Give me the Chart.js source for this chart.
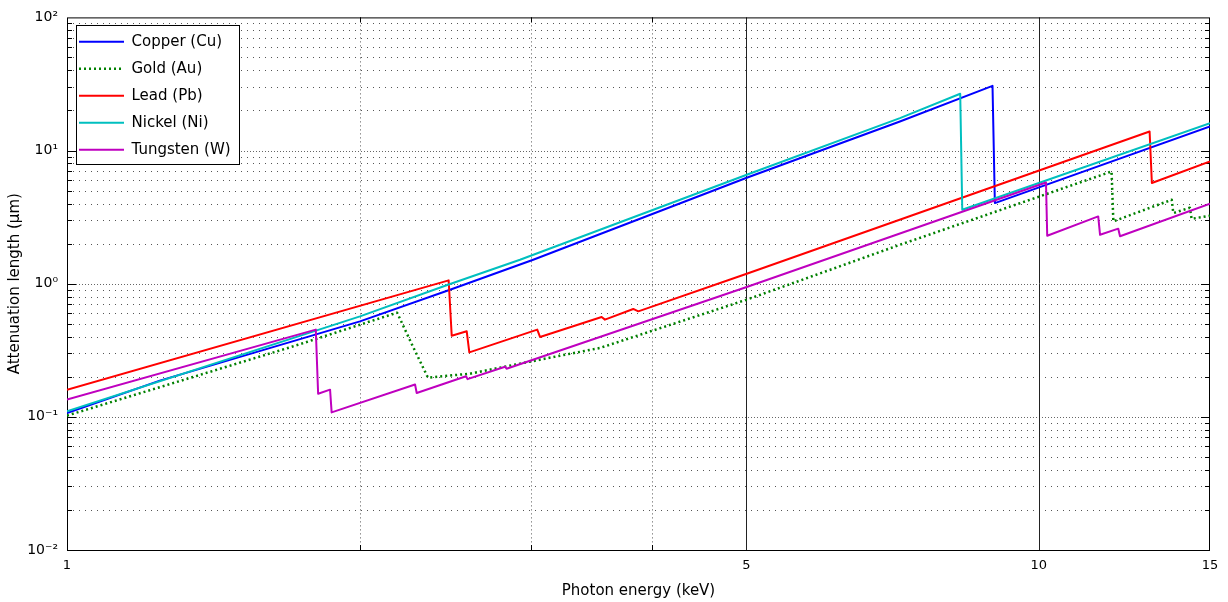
<!DOCTYPE html>
<html>
<head>
<meta charset="utf-8">
<title>Attenuation length vs photon energy</title>
<script src="https://cdn.jsdelivr.net/npm/chart.js@4.4.1/dist/chart.umd.min.js"></script>
<style>
  html, body { margin: 0; padding: 0; background: #fff; }
  #wrap { width: 1228px; height: 602px; }
</style>
</head>
<body>
<div id="wrap"><canvas id="attChart" width="1228" height="602"></canvas></div>
<script>
// Values: photon energy (keV) -> attenuation length (um)
const seriesNames = ['Copper (Cu)', 'Gold (Au)', 'Lead (Pb)', 'Nickel (Ni)', 'Tungsten (W)'];

const cuEnergy = [1, 1.246, 2.002, 2.478, 3.018, 5.005, 7.195, 8.96, 9.01, 15];
const cuLength = [0.107, 0.187, 0.521, 0.901, 1.514, 6.245, 16.52, 30.6, 4.03, 15.15];

const auEnergy = [1, 1.708, 2.186, 2.265, 2.352, 2.598, 2.925, 3.217, 3.535, 5.005, 7.195, 11.88, 11.93, 13.70, 13.75, 14.30, 14.36, 15];
const auLength = [0.1022, 0.338, 0.606, 0.348, 0.197, 0.211, 0.251, 0.288, 0.329, 0.759, 1.96, 6.96, 2.94, 4.27, 3.39, 3.72, 3.07, 3.24];

const pbEnergy = [1, 2.47, 2.488, 2.578, 2.594, 3.047, 3.067, 3.549, 3.577, 3.825, 3.871, 5.005, 13.0, 13.07, 15];
const pbLength = [0.160, 1.059, 0.407, 0.439, 0.305, 0.452, 0.398, 0.562, 0.537, 0.646, 0.620, 1.189, 13.9, 5.70, 8.28];

const niEnergy = [1, 2.002, 2.466, 2.925, 5.005, 7.195, 8.30, 8.34, 15];
const niLength = [0.110, 0.568, 0.983, 1.514, 6.577, 17.52, 26.7, 3.59, 16.07];

const wEnergy = [1, 1.803, 1.813, 1.865, 1.872, 2.281, 2.290, 2.574, 2.583, 2.823, 2.833, 5.005, 10.17, 10.20, 11.51, 11.56, 12.07, 12.12, 15];
const wLength = [0.1347, 0.452, 0.149, 0.160, 0.108, 0.175, 0.151, 0.202, 0.192, 0.238, 0.230, 0.945, 5.76, 2.29, 3.20, 2.33, 2.59, 2.27, 3.99];

// axis ticks / grid
const xTickValues = [1, 5, 10, 15];
const xDottedGrid = [2, 3, 4];
const xSolidGrid = [5, 10];
const yTickValues = [0.01, 0.1, 1, 10, 100];

const supers = { '-': '\u207B', '0': '\u2070', '1': '\u00B9', '2': '\u00B2' };
function powLabel(v) {
    const p = String(Math.round(Math.log10(v)));
    return '10' + p.split('').map(c => supers[c]).join('');
}

function toPoints(xs, ys) {
    return xs.map((x, i) => ({ x: x, y: ys[i] }));
}

const FONT = '"DejaVu Sans", sans-serif';

// grid, tick marks, axes box and legend frame (MATLAB look)
const framePlugin = {
    id: 'frame',
    beforeDraw(chart) {
        const ctx = chart.ctx;
        const a = chart.chartArea;
        const xs = chart.scales.x, ys = chart.scales.y;
        const line = (x1, y1, x2, y2) => { ctx.beginPath(); ctx.moveTo(x1, y1); ctx.lineTo(x2, y2); ctx.stroke(); };

        ctx.save();
        ctx.fillStyle = '#fff';
        ctx.fillRect(0, 0, chart.width, chart.height);
        ctx.lineWidth = 1;

        // horizontal dotted grid at every 1..9 x 10^n
        for (let p = -2; p < 2; p++) {
            for (let k = 1; k < 10; k++) {
                const v = k * Math.pow(10, p);
                if (v <= 0.01) continue;
                const py = Math.round(ys.getPixelForValue(v)) + 0.5;
                ctx.strokeStyle = k === 1 ? '#666' : '#555';
                ctx.setLineDash(k === 1 ? [1, 2] : [1, 5]);
                line(a.left, py, a.right, py);
                ctx.setLineDash([]);
                ctx.strokeStyle = '#000';
                const tl = k === 1 ? 9 : 5;
                line(a.left, py, a.left + tl, py);
                line(a.right - tl, py, a.right, py);
            }
        }

        // vertical grid
        xDottedGrid.forEach(v => {
            const px = Math.round(xs.getPixelForValue(v)) + 0.5;
            ctx.strokeStyle = '#555';
            ctx.setLineDash([1, 3]);
            line(px, a.top, px, a.bottom);
            ctx.setLineDash([]);
            ctx.strokeStyle = '#000';
            line(px, a.bottom - 5, px, a.bottom);
            line(px, a.top, px, a.top + 5);
        });
        xSolidGrid.forEach(v => {
            const px = Math.round(xs.getPixelForValue(v)) + 0.5;
            ctx.strokeStyle = '#222';
            ctx.setLineDash([]);
            line(px, a.top, px, a.bottom);
        });

        // axes box
        ctx.setLineDash([]);
        ctx.strokeStyle = '#000';
        ctx.strokeRect(a.left + 0.5, a.top + 0.5, a.right - a.left - 1, a.bottom - a.top);

        // legend frame
        const boxes = chart.legend && chart.legend.legendHitBoxes;
        if (boxes && boxes.length) {
            let l = Infinity, t = Infinity, r = -Infinity, b = -Infinity;
            boxes.forEach(h => {
                l = Math.min(l, h.left); t = Math.min(t, h.top);
                r = Math.max(r, h.left + h.width); b = Math.max(b, h.top + h.height);
            });
            l = Math.round(l - 3) + 0.5; t = Math.round(t - 9) + 0.5;
            r = Math.round(r + 8) + 0.5; b = Math.round(b + 7) + 0.5;
            ctx.fillStyle = '#fff';
            ctx.fillRect(l, t, r - l, b - t);
            ctx.strokeStyle = '#000';
            ctx.strokeRect(l, t, r - l, b - t);
        }
        ctx.restore();
    }
};

const ctx = document.getElementById('attChart').getContext('2d');

new Chart(ctx, {
    type: 'line',
    data: {
        datasets: [
            { label: seriesNames[0], data: toPoints(cuEnergy, cuLength), borderColor: '#0000ff', borderWidth: 2, order: 5 },
            { label: seriesNames[1], data: toPoints(auEnergy, auLength), borderColor: '#008000', borderWidth: 2.5, borderDash: [2, 3], order: 4 },
            { label: seriesNames[2], data: toPoints(pbEnergy, pbLength), borderColor: '#ff0000', borderWidth: 2, order: 3 },
            { label: seriesNames[3], data: toPoints(niEnergy, niLength), borderColor: '#00bfbf', borderWidth: 2, order: 2 },
            { label: seriesNames[4], data: toPoints(wEnergy, wLength), borderColor: '#bf00bf', borderWidth: 2, order: 1 }
        ]
    },
    options: {
        responsive: false,
        animation: false,
        devicePixelRatio: 1,
        layout: { padding: { top: 17, right: 18, left: 0, bottom: 0 } },
        elements: {
            point: { radius: 0, hoverRadius: 0 },
            line: { tension: 0, fill: false, borderJoinStyle: 'round' }
        },
        scales: {
            x: {
                type: 'logarithmic',
                min: 1,
                max: 15,
                afterBuildTicks: s => { s.ticks = xTickValues.map(v => ({ value: v })); },
                afterFit: s => { s.height = 52; },
                grid: { display: false, drawTicks: false },
                border: { display: false },
                ticks: {
                    autoSkip: false, maxRotation: 0, padding: 8, color: '#000',
                    font: { family: FONT, size: 13 },
                    callback: v => String(v)
                },
                title: {
                    display: true, text: 'Photon energy (keV)', color: '#000',
                    font: { family: FONT, size: 15 }, padding: { top: 2, bottom: 2 }
                }
            },
            y: {
                type: 'logarithmic',
                min: 0.01,
                max: 100,
                afterBuildTicks: s => { s.ticks = yTickValues.map(v => ({ value: v })); },
                afterFit: s => { s.width = 67; },
                grid: { display: false, drawTicks: false },
                border: { display: false },
                ticks: {
                    autoSkip: false, padding: 9, color: '#000',
                    font: { family: FONT, size: 14 },
                    callback: v => powLabel(v)
                },
                title: {
                    display: true, text: 'Attenuation length (\u00B5m)', color: '#000',
                    font: { family: FONT, size: 15 }, padding: { top: 6, bottom: 0 }
                }
            }
        },
        plugins: {
            legend: {
                position: 'chartArea',
                align: 'start',
                // empty title only pushes the rows down to the plot's top margin
                title: { display: true, text: '', font: { size: 1 }, padding: { top: 11, bottom: 10 } },
                labels: {
                    usePointStyle: true,
                    pointStyle: 'line',
                    pointStyleWidth: 45,
                    padding: 12,
                    color: '#000',
                    font: { family: FONT, size: 15 },
                    sort: (a, b) => a.datasetIndex - b.datasetIndex,
                    generateLabels: chart => Chart.defaults.plugins.legend.labels.generateLabels(chart).map(item => {
                        const ds = chart.data.datasets[item.datasetIndex];
                        return Object.assign(item, {
                            lineWidth: ds.borderWidth,
                            lineDash: ds.borderDash || [],
                            strokeStyle: ds.borderColor
                        });
                    })
                }
            },
            tooltip: { enabled: false }
        }
    },
    plugins: [framePlugin]
});
</script>
</body>
</html>
